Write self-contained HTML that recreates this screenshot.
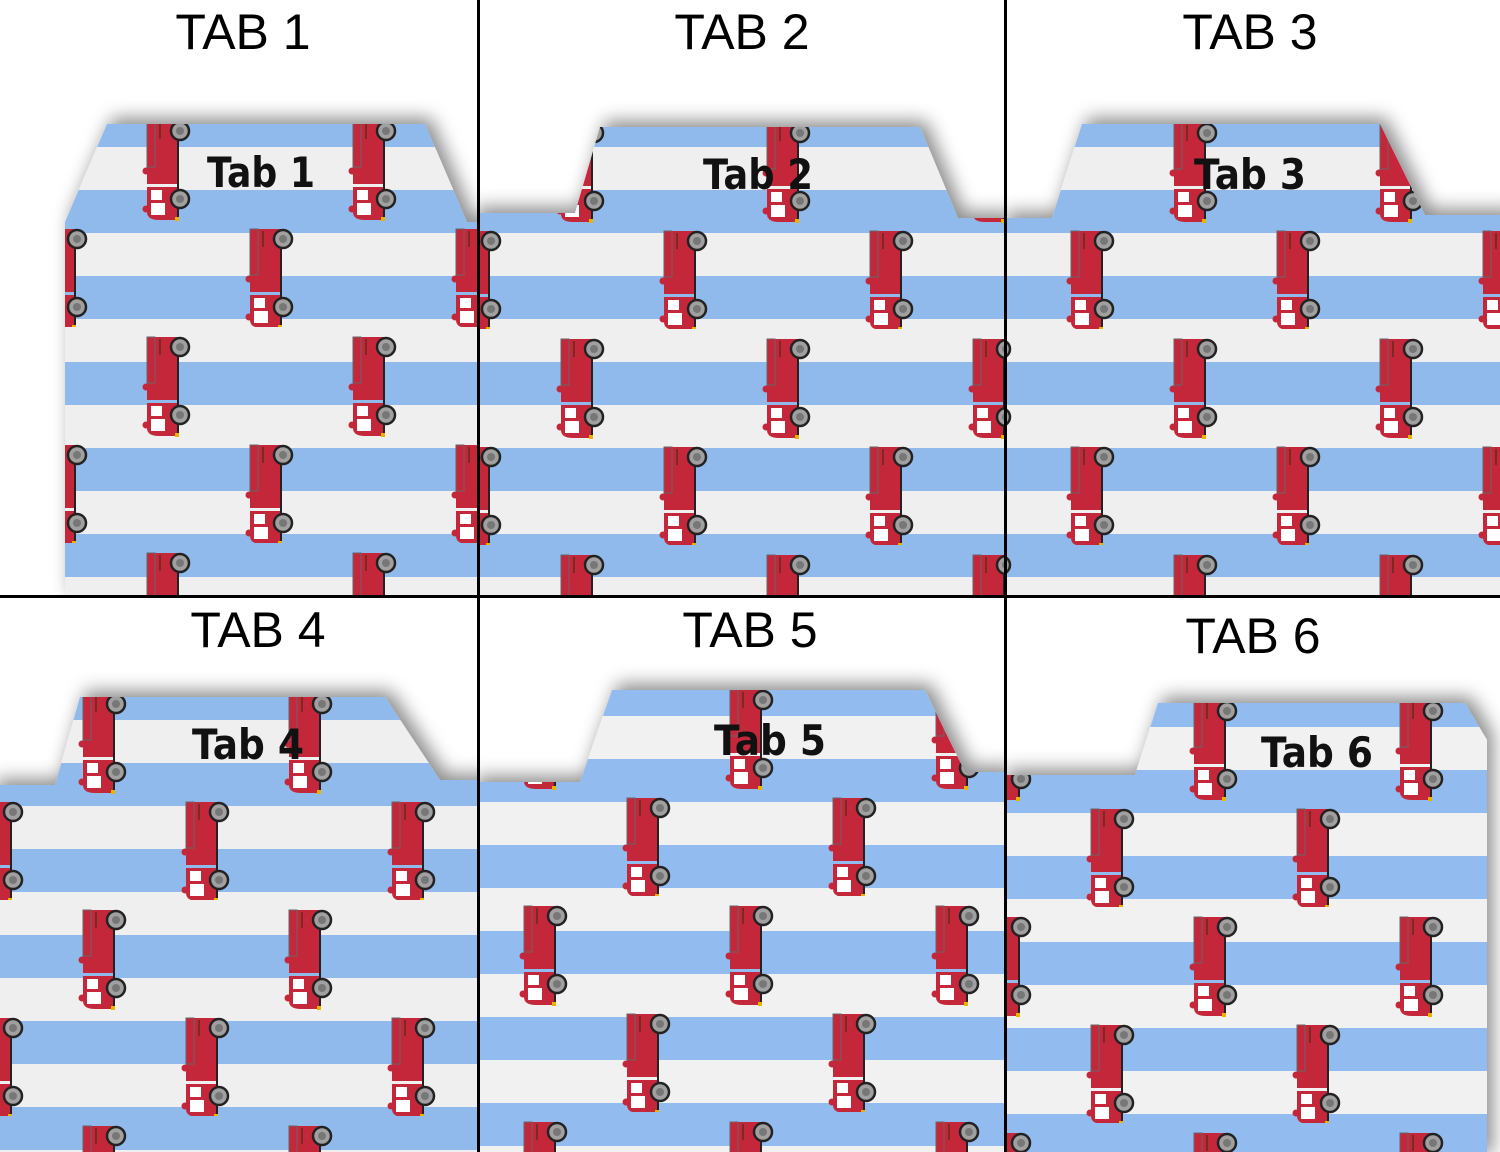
<!DOCTYPE html>
<html><head><meta charset="utf-8"><style>
html,body{margin:0;padding:0;background:#fff;width:1500px;height:1152px;overflow:hidden}
</style></head><body>
<svg width="1500" height="1152" xmlns="http://www.w3.org/2000/svg" xmlns:xlink="http://www.w3.org/1999/xlink">
<defs>
<filter id="sh" x="-20%" y="-20%" width="140%" height="140%">
<feDropShadow dx="6" dy="-6" stdDeviation="9" flood-color="#000" flood-opacity="0.45"/>
</filter>
<g id="t">
<rect x="-33" y="-10" width="31" height="63" fill="#c5273a"/>
<rect x="-33" y="-10" width="8" height="46" fill="none" stroke="#666" stroke-width="1"/>
<line x1="-20" y1="-8" x2="-20" y2="8" stroke="#7a2a20" stroke-width="2"/>
<circle cx="-34" cy="40" r="3.5" fill="#c5273a"/>
<path d="M-33 56 h31 v33 h-19 q-12 0 -12 -8 z" fill="#c5273a"/>
<circle cx="-34" cy="78" r="3.5" fill="#c5273a"/>
<rect x="-29" y="59" width="11" height="10" fill="#fff"/>
<rect x="-29" y="72" width="14" height="12" fill="#fff"/>
<line x1="-2" y1="-10" x2="-2" y2="90" stroke="#222" stroke-width="2"/>
<rect x="-5" y="86" width="4" height="4" fill="#e8b400"/>
<circle cx="0" cy="0" r="9" fill="#a0a0a0" stroke="#222" stroke-width="2.5"/>
<circle cx="0" cy="0" r="4" fill="#777"/>
<circle cx="0" cy="68" r="9" fill="#a0a0a0" stroke="#222" stroke-width="2.5"/>
<circle cx="0" cy="68" r="4" fill="#777"/>
</g>
<pattern id="s1" patternUnits="userSpaceOnUse" width="10" height="86" y="18"><rect width="10" height="86" fill="#efefef"/><rect width="10" height="43" fill="#8fbaeb"/></pattern>
<pattern id="s4" patternUnits="userSpaceOnUse" width="10" height="86" y="75"><rect width="10" height="86" fill="#efefef"/><rect width="10" height="43" fill="#8fbaeb"/></pattern>
<pattern id="s5" patternUnits="userSpaceOnUse" width="10" height="86" y="71"><rect width="10" height="86" fill="#f1f1f1"/><rect width="10" height="43" fill="#92bcef"/></pattern>
<pattern id="s6" patternUnits="userSpaceOnUse" width="10" height="86" y="82"><rect width="10" height="86" fill="#f1f1f1"/><rect width="10" height="43" fill="#92bcef"/></pattern>
<pattern id="tr1" patternUnits="userSpaceOnUse" width="206" height="216" x="130" y="111"><use xlink:href="#t" x="50" y="20"/><use xlink:href="#t" x="153" y="128"/></pattern>
<pattern id="tr2" patternUnits="userSpaceOnUse" width="206" height="216" x="750" y="113"><use xlink:href="#t" x="50" y="20"/><use xlink:href="#t" x="153" y="128"/></pattern>
<pattern id="tr3" patternUnits="userSpaceOnUse" width="206" height="216" x="1157" y="113"><use xlink:href="#t" x="50" y="20"/><use xlink:href="#t" x="153" y="128"/></pattern>
<pattern id="tr4" patternUnits="userSpaceOnUse" width="206" height="216" x="66" y="684"><use xlink:href="#t" x="50" y="20"/><use xlink:href="#t" x="153" y="128"/></pattern>
<pattern id="tr5" patternUnits="userSpaceOnUse" width="206" height="216" x="713" y="680"><use xlink:href="#t" x="50" y="20"/><use xlink:href="#t" x="153" y="128"/></pattern>
<pattern id="tr6" patternUnits="userSpaceOnUse" width="206" height="216" x="1177" y="691"><use xlink:href="#t" x="50" y="20"/><use xlink:href="#t" x="153" y="128"/></pattern>
<clipPath id="c1"><rect x="0" y="0" width="477" height="595"/></clipPath>
<clipPath id="c2"><rect x="480" y="0" width="524" height="595"/></clipPath>
<clipPath id="c3"><rect x="1007" y="0" width="493" height="595"/></clipPath>
<clipPath id="c4"><rect x="0" y="598" width="477" height="554"/></clipPath>
<clipPath id="c5"><rect x="480" y="598" width="524" height="554"/></clipPath>
<clipPath id="c6"><rect x="1007" y="598" width="493" height="554"/></clipPath>
<clipPath id="p1"><polygon points="65,222 107,124 425,124 467,222 490,222 490,600 65,600"/></clipPath>
<clipPath id="p2"><polygon points="470,213 575,213 600,127 920,127 958,218 1010,218 1010,600 470,600"/></clipPath>
<clipPath id="p3"><polygon points="1000,218 1052,218 1082,124 1380,124 1425,215 1510,215 1510,600 1000,600"/></clipPath>
<clipPath id="p4"><polygon points="-10,785 55,785 80,697 385,697 440,780 490,780 490,1160 -10,1160"/></clipPath>
<clipPath id="p5"><polygon points="470,782 580,782 612,690 925,690 965,772 1010,772 1010,1160 470,1160"/></clipPath>
<clipPath id="p6"><polygon points="1000,775 1135,775 1158,703 1465,703 1487,740 1487,1160 1000,1160"/></clipPath>
</defs>
<rect width="1500" height="1152" fill="#fff"/>

<g clip-path="url(#c1)">
<polygon filter="url(#sh)" points="65,222 107,124 425,124 467,222 490,222 490,600 65,600" fill="url(#s1)"/>
<rect clip-path="url(#p1)" x="0" y="0" width="500" height="600" fill="url(#tr1)"/>
</g>
<g clip-path="url(#c2)">
<polygon filter="url(#sh)" points="470,213 575,213 600,127 920,127 958,218 1010,218 1010,600 470,600" fill="url(#s1)"/>
<rect clip-path="url(#p2)" x="470" y="0" width="540" height="600" fill="url(#tr2)"/>
</g>
<g clip-path="url(#c3)">
<polygon filter="url(#sh)" points="1000,218 1052,218 1082,124 1380,124 1425,215 1510,215 1510,600 1000,600" fill="url(#s1)"/>
<rect clip-path="url(#p3)" x="1000" y="0" width="510" height="600" fill="url(#tr3)"/>
</g>
<g clip-path="url(#c4)">
<polygon filter="url(#sh)" points="-10,785 55,785 80,697 385,697 440,780 490,780 490,1160 -10,1160" fill="url(#s4)"/>
<rect clip-path="url(#p4)" x="-10" y="598" width="500" height="560" fill="url(#tr4)"/>
</g>
<g clip-path="url(#c5)">
<polygon filter="url(#sh)" points="470,782 580,782 612,690 925,690 965,772 1010,772 1010,1160 470,1160" fill="url(#s5)"/>
<rect clip-path="url(#p5)" x="470" y="598" width="540" height="560" fill="url(#tr5)"/>
</g>
<g clip-path="url(#c6)">
<polygon filter="url(#sh)" points="1000,775 1135,775 1158,703 1465,703 1487,740 1487,1160 1000,1160" fill="url(#s6)"/>
<rect clip-path="url(#p6)" x="1000" y="598" width="500" height="560" fill="url(#tr6)"/>
</g>

<g font-family="'DejaVu Sans','Liberation Sans',sans-serif" font-weight="bold" font-size="42" fill="#111" text-anchor="middle">
<text x="261" y="187" textLength="108" lengthAdjust="spacingAndGlyphs">Tab 1</text>
<text x="758" y="189" textLength="110" lengthAdjust="spacingAndGlyphs">Tab 2</text>
<text x="1250" y="189" textLength="112" lengthAdjust="spacingAndGlyphs">Tab 3</text>
<text x="248" y="759" textLength="112" lengthAdjust="spacingAndGlyphs">Tab 4</text>
<text x="770" y="755" textLength="112" lengthAdjust="spacingAndGlyphs">Tab 5</text>
<text x="1317" y="767" textLength="112" lengthAdjust="spacingAndGlyphs">Tab 6</text>
</g>

<g font-family="'Liberation Sans',sans-serif" font-size="50" fill="#000" text-anchor="middle">
<text x="243" y="49">TAB 1</text>
<text x="742" y="49">TAB 2</text>
<text x="1250" y="49">TAB 3</text>
<text x="258" y="647">TAB 4</text>
<text x="750" y="647">TAB 5</text>
<text x="1253" y="653">TAB 6</text>
</g>

<rect x="477" y="0" width="3" height="1152" fill="#000"/>
<rect x="1004" y="0" width="3" height="1152" fill="#000"/>
<rect x="0" y="595" width="1500" height="3" fill="#000"/>
</svg>
</body></html>
